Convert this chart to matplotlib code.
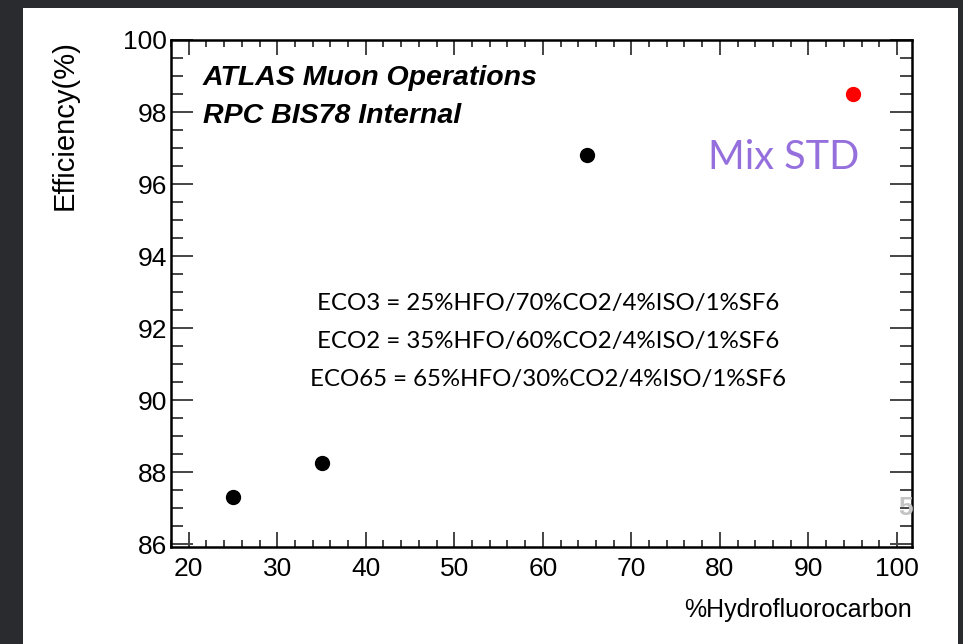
import matplotlib
matplotlib.use('Agg')
import matplotlib.pyplot as plt
from matplotlib.patches import Rectangle
from matplotlib.ticker import MultipleLocator

# 측정 데이터 : HFO 함량(%) 별 효율(%)
hfo_eco = [25, 35, 65]
eff_eco = [87.3, 88.25, 96.8]
hfo_std = [95]
eff_std = [98.5]

x_ticks = [20, 30, 40, 50, 60, 70, 80, 90, 100]
y_ticks = [86, 88, 90, 92, 94, 96, 98, 100]

gas_lines = ['ECO3 = 25%HFO/70%CO2/4%ISO/1%SF6',
             'ECO2 = 35%HFO/60%CO2/4%ISO/1%SF6',
             'ECO65 = 65%HFO/30%CO2/4%ISO/1%SF6']

plt.rcParams['font.family'] = ['Liberation Sans', 'DejaVu Sans']

fig = plt.figure(figsize=(9.63, 6.44), dpi=100)
fig.patch.set_facecolor('#2a2b2f')

# 슬라이드 흰 배경
W, H = 963, 644
fig.add_artist(Rectangle((23 / W, 0), (958 - 23) / W, (644 - 8) / H,
                         transform=fig.transFigure, facecolor='white',
                         edgecolor='none', zorder=0))

# 슬라이드 번호 (그래프 뒤에 살짝 보임)
fig.text(906 / W, 1 - 508 / H, '5', color='#c4c4c4', fontsize=19,
         fontweight='bold', ha='center', va='center', zorder=1)

ax = fig.add_axes([171 / W, 1 - 547 / H, (912 - 171) / W, (547 - 40) / H])
ax.set_facecolor('none')

ax.plot(hfo_eco, eff_eco, 'o', color='black', markersize=10, zorder=3)
ax.plot(hfo_std, eff_std, 'o', color='red', markersize=10, zorder=3)

ax.set_xlim(18, 101.7)
ax.set_ylim(85.92, 100)
ax.set_xticks(x_ticks)
ax.set_yticks(y_ticks)
ax.xaxis.set_minor_locator(MultipleLocator(2))
ax.yaxis.set_minor_locator(MultipleLocator(0.5))

# ROOT 스타일 눈금 (안쪽, 네 방향)
ax.tick_params(which='both', direction='in', top=True, right=True,
               color='#444444', width=1.4, labelsize=19)
ax.tick_params(axis='x', which='major', length=11, pad=7)
ax.tick_params(axis='x', which='minor', length=5)
ax.tick_params(axis='y', which='major', length=16, pad=3)
ax.tick_params(axis='y', which='minor', length=8.5)
for sp in ax.spines.values():
    sp.set_linewidth(1.8)
    sp.set_color('black')

ax.set_xlabel('%Hydrofluorocarbon', fontsize=18, ha='right')
ax.xaxis.set_label_coords(1.0, -0.10)
ax.set_ylabel('Efficiency(%)', fontsize=21, ha='right')
ax.yaxis.set_label_coords(-0.125, 1.0)

ax.text(0.043, 0.911, 'ATLAS Muon Operations', transform=ax.transAxes,
        fontsize=20.5, fontweight='bold', fontstyle='italic', va='baseline')
ax.text(0.043, 0.836, 'RPC BIS78 Internal', transform=ax.transAxes,
        fontsize=20.5, fontweight='bold', fontstyle='italic', va='baseline')

ax.text(0.7247, 0.7456, 'Mix STD', transform=ax.transAxes, color='#9570dd',
        fontsize=28.5, family=['Lato', 'DejaVu Sans'], va='baseline')

for i, line in enumerate(gas_lines):
    ax.text(0.5088, 0.4675 - i * 0.075, line, transform=ax.transAxes,
            fontsize=17.3, family=['Lato', 'DejaVu Sans'], ha='center',
            va='baseline')

fig.savefig('out.png', dpi=100, facecolor=fig.get_facecolor())
